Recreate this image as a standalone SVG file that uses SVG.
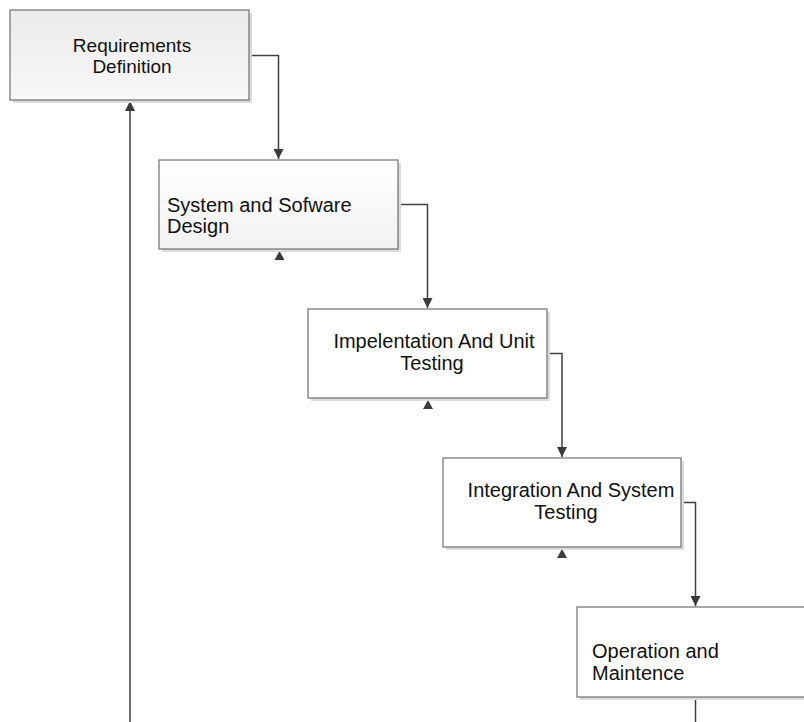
<svg xmlns="http://www.w3.org/2000/svg" width="804" height="722" viewBox="0 0 804 722">
  <defs>
    <linearGradient id="gradGray" x1="0" y1="0" x2="0" y2="1">
      <stop offset="0" stop-color="#ebebeb"/>
      <stop offset="1" stop-color="#f7f7f7"/>
    </linearGradient>
    <linearGradient id="gradWhite" x1="0" y1="0" x2="0" y2="1">
      <stop offset="0" stop-color="#ffffff"/>
      <stop offset="1" stop-color="#f2f2f2"/>
    </linearGradient>
    <marker id="arrow" viewBox="0 0 10 10" refX="10" refY="5" markerWidth="10" markerHeight="10" markerUnits="userSpaceOnUse" orient="auto">
      <path d="M0,0 L10,5 L0,10 Z" fill="#3a3a3a"/>
    </marker>
  </defs>
  <style>
    .shadow { fill: #dcdcdc; }
    .box { stroke: #6e6e6e; stroke-width: 1.2; }
    .plain { fill: #ffffff; }
    .label { font-family: "Liberation Sans", Arial, sans-serif; font-size: 20px; fill: #111111; }
    .small { font-size: 19px; }
    .conn { fill: none; stroke: #404040; stroke-width: 1.5; }
    .tri { fill: #3a3a3a; }
  </style>

  <rect width="804" height="722" fill="#ffffff"/>

  <!-- connectors -->
  <g id="connectors">
    <path class="conn" d="M249,55.5 H278.5 V159" marker-end="url(#arrow)"/>
    <path class="conn" d="M398,204.5 H427.5 V308" marker-end="url(#arrow)"/>
    <path class="conn" d="M547,353.5 H562 V457" marker-end="url(#arrow)"/>
    <path class="conn" d="M681,502.5 H695.5 V606" marker-end="url(#arrow)"/>
    <path class="conn" d="M695.5,697 V722"/>
    <path class="conn" d="M130,722 V101" marker-end="url(#arrow)"/>
    <!-- return arrowheads under the phase boxes -->
    <path class="tri" d="M279.5,251 L284.5,260 L274.5,260 Z"/>
    <path class="tri" d="M428,400 L433,409 L423,409 Z"/>
    <path class="tri" d="M562,549 L567,558 L557,558 Z"/>
  </g>

  <g id="requirements">
    <rect class="shadow" x="13" y="13" width="239" height="90"/>
    <rect class="box" x="10" y="10" width="239" height="90" fill="url(#gradGray)"/>
    <text class="label small" text-anchor="middle" x="132" y="52">Requirements</text>
    <text class="label small" text-anchor="middle" x="132" y="72.5">Definition</text>
  </g>

  <g id="design">
    <rect class="shadow" x="162" y="163" width="239" height="89"/>
    <rect class="box" x="159" y="160" width="239" height="89" fill="url(#gradWhite)"/>
    <text class="label" x="167" y="212">System and Sofware</text>
    <text class="label" x="167" y="233">Design</text>
  </g>

  <g id="implementation">
    <rect class="shadow" x="311" y="312" width="239" height="89"/>
    <rect class="box plain" x="308" y="309" width="239" height="89"/>
    <text class="label" text-anchor="middle" x="434" y="348">Impelentation And Unit</text>
    <text class="label" text-anchor="middle" x="432" y="369.5">Testing</text>
  </g>

  <g id="integration">
    <rect class="shadow" x="446" y="461" width="238" height="89"/>
    <rect class="box plain" x="443" y="458" width="238" height="89"/>
    <text class="label" text-anchor="middle" x="571" y="497">Integration And System</text>
    <text class="label" text-anchor="middle" x="566" y="518.5">Testing</text>
  </g>

  <g id="operation">
    <rect class="shadow" x="580" y="610" width="240" height="90"/>
    <rect class="box plain" x="577" y="607" width="240" height="90"/>
    <text class="label" x="592" y="658">Operation and</text>
    <text class="label" x="592" y="679.5">Maintence</text>
  </g>
</svg>
